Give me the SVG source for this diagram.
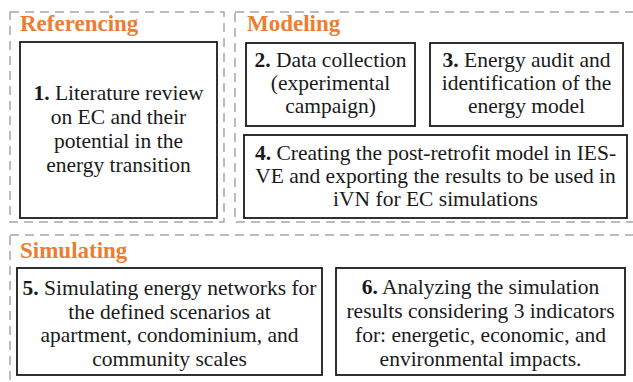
<svg xmlns="http://www.w3.org/2000/svg" width="633" height="382" viewBox="0 0 633 382">
<defs>
<style>
.grp{fill:none;stroke:#a6a6a6;stroke-width:1.5;stroke-dasharray:9 6}
.box{fill:#fff;stroke:#1a1a1a;stroke-width:1.8}
</style>
</defs>
<rect width="633" height="382" fill="#fff"/>
<g id="referencing">
<rect class="grp" x="10" y="12" width="214" height="210"/>
<text x="20" y="31" font-family="Liberation Serif, Times New Roman, serif" font-weight="bold" font-size="23" fill="#ED7D31">Referencing</text>
</g>
<g id="modeling">
<rect class="grp" x="235" y="12" width="410" height="210"/>
<text x="247" y="31" font-family="Liberation Serif, Times New Roman, serif" font-weight="bold" font-size="23" fill="#ED7D31">Modeling</text>
</g>
<g id="simulating">
<rect class="grp" x="10" y="235" width="640" height="160"/>
<text x="20" y="258" font-family="Liberation Serif, Times New Roman, serif" font-weight="bold" font-size="23" fill="#ED7D31">Simulating</text>
</g>
<g id="node1" font-family="Liberation Serif, Times New Roman, serif" font-size="21.5" fill="#1a1a1a" text-anchor="middle">
<rect class="box" x="20" y="42" width="197" height="176"/>
<text x="118.5" y="100"><tspan font-weight="bold">1.</tspan> Literature review</text>
<text x="118.5" y="124">on EC and their</text>
<text x="118.5" y="148">potential in the</text>
<text x="118.5" y="172">energy transition</text>
</g>
<g id="node2" font-family="Liberation Serif, Times New Roman, serif" font-size="21.5" fill="#1a1a1a" text-anchor="middle">
<rect class="box" x="246" y="43" width="169" height="83"/>
<text x="330.5" y="67"><tspan font-weight="bold">2.</tspan> Data collection</text>
<text x="330.5" y="90">(experimental</text>
<text x="330.5" y="113">campaign)</text>
</g>
<g id="node3" font-family="Liberation Serif, Times New Roman, serif" font-size="21.5" fill="#1a1a1a" text-anchor="middle">
<rect class="box" x="430" y="43" width="193" height="83"/>
<text x="526.5" y="67"><tspan font-weight="bold">3.</tspan> Energy audit and</text>
<text x="526.5" y="90">identification of the</text>
<text x="526.5" y="113">energy model</text>
</g>
<g id="node4" font-family="Liberation Serif, Times New Roman, serif" font-size="21.5" fill="#1a1a1a" text-anchor="middle">
<rect class="box" x="244" y="135" width="383" height="83"/>
<text x="435.5" y="159.5"><tspan font-weight="bold">4.</tspan> Creating the post-retrofit model in IES-</text>
<text x="435.5" y="182.5">VE and exporting the results to be used in</text>
<text x="435.5" y="205.5">iVN for EC simulations</text>
</g>
<g id="node5" font-family="Liberation Serif, Times New Roman, serif" font-size="21.5" fill="#1a1a1a" text-anchor="middle">
<rect class="box" x="17" y="268" width="305" height="107"/>
<text x="169.5" y="295"><tspan font-weight="bold">5.</tspan> Simulating energy networks for</text>
<text x="169.5" y="318.5">the defined scenarios at</text>
<text x="169.5" y="342">apartment, condominium, and</text>
<text x="169.5" y="365.5">community scales</text>
</g>
<g id="node6" font-family="Liberation Serif, Times New Roman, serif" font-size="21.5" fill="#1a1a1a" text-anchor="middle">
<rect class="box" x="336" y="268" width="289" height="107"/>
<text x="480.5" y="294"><tspan font-weight="bold">6.</tspan> Analyzing the simulation</text>
<text x="480.5" y="318">results considering 3 indicators</text>
<text x="480.5" y="342">for: energetic, economic, and</text>
<text x="480.5" y="366">environmental impacts.</text>
</g>
<g id="connectors"></g>
</svg>
